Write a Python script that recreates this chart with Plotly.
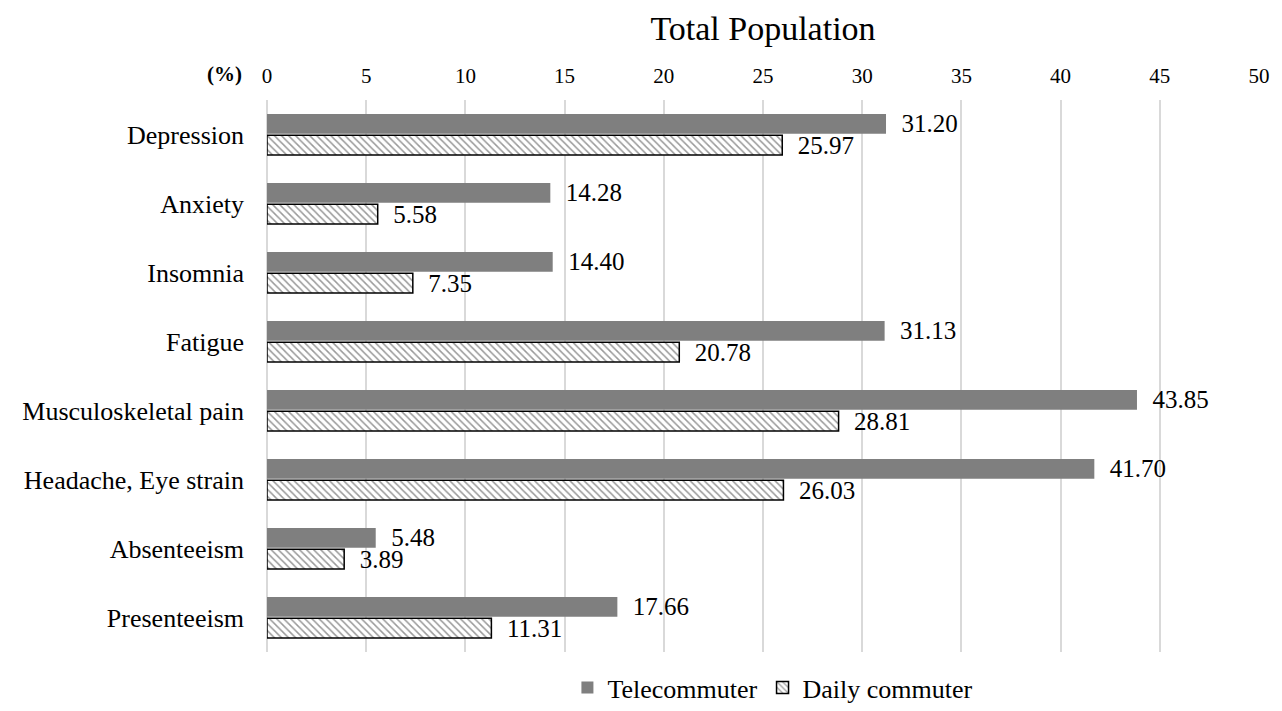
import plotly.graph_objects as go

categories = ["Depression", "Anxiety", "Insomnia", "Fatigue", "Musculoskeletal pain",
              "Headache, Eye strain", "Absenteeism", "Presenteeism"]
telecommuter = [31.20, 14.28, 14.40, 31.13, 43.85, 41.70, 5.48, 17.66]
daily_commuter = [25.97, 5.58, 7.35, 20.78, 28.81, 26.03, 3.89, 11.31]
x_ticks = [0, 5, 10, 15, 20, 25, 30, 35, 40, 45, 50]

FONT = "Liberation Serif, Times New Roman, serif"

fig = go.Figure()
fig.add_trace(go.Bar(
    y=categories, x=telecommuter, orientation="h", name="Telecommuter",
    marker=dict(color="#7f7f7f", line=dict(width=0)),
    texttemplate="  %{x:.2f}", textposition="outside", cliponaxis=False, constraintext="none",
    textfont=dict(family=FONT, size=25, color="black"),
))
fig.add_trace(go.Bar(
    y=categories, x=daily_commuter, orientation="h", name="Daily commuter",
    marker=dict(color="white", line=dict(color="black", width=1.5),
                pattern=dict(shape="\\", fgcolor="#333333", bgcolor="white", size=5, solidity=0.3)),
    texttemplate="  %{x:.2f}", textposition="outside", cliponaxis=False, constraintext="none",
    textfont=dict(family=FONT, size=25, color="black"),
))

fig.update_layout(
    width=1282, height=711,
    margin=dict(l=267, r=18, t=100, b=56),
    paper_bgcolor="white", plot_bgcolor="white",
    barmode="group", bargap=0.38, bargroupgap=0.08,
    font=dict(family=FONT, color="black"),
    title=dict(text="Total Population", x=0.5, xref="paper", y=1 - 28 / 711, yanchor="middle",
               font=dict(family=FONT, size=34, color="black")),
    showlegend=True,
    legend=dict(orientation="h", x=0.51, xanchor="center", xref="paper",
                y=0, yref="container", yanchor="bottom", tracegroupgap=0,
                font=dict(family=FONT, size=26, color="black"), traceorder="normal"),
    xaxis=dict(side="top", range=[0, 50], tickvals=x_ticks, ticks="",
               showgrid=True, gridcolor="#d9d9d9", gridwidth=2,
               zeroline=True, zerolinecolor="#d9d9d9", zerolinewidth=2,
               tickfont=dict(family=FONT, size=21, color="black"), ticklabelstandoff=12,
               showline=False),
    yaxis=dict(categoryorder="array", categoryarray=categories, autorange="reversed",
               ticks="", showline=False, showgrid=False,
               tickfont=dict(family=FONT, size=26, color="black"), ticklabelstandoff=22),
    annotations=[dict(text="<b>(%)</b>", x=-0.023, xref="paper", xanchor="right",
                      y=1, yref="paper", yanchor="bottom", yshift=12, showarrow=False,
                      font=dict(family=FONT, size=21, color="black"))],
)

fig.write_html("out.html")
